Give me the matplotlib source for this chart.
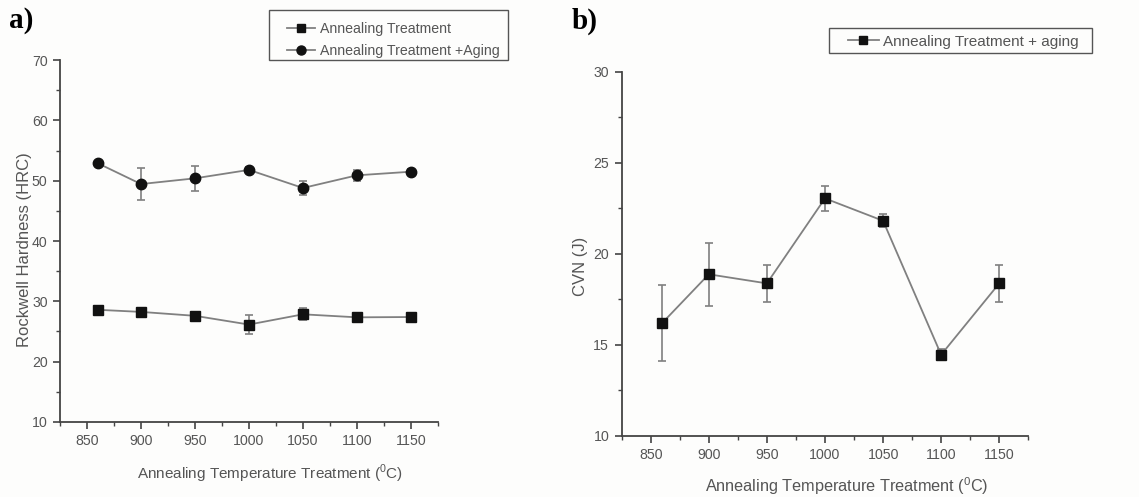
import matplotlib
matplotlib.use("Agg")
import matplotlib.pyplot as plt
from matplotlib.ticker import MultipleLocator
from matplotlib.lines import Line2D
from matplotlib.patches import Rectangle

plt.rcParams['font.family'] = ['Liberation Sans', 'DejaVu Sans']
plt.rcParams['mathtext.fontset'] = 'custom'
plt.rcParams['mathtext.rm'] = 'Liberation Sans'

# Annealing temperatures (°C)
temps = [860, 900, 950, 1000, 1050, 1100, 1150]

# Rockwell hardness (HRC)
hrc_anneal = [28.6, 28.25, 27.6, 26.15, 27.85, 27.35, 27.4]
hrc_anneal_err = [0.5, 0.5, 0.6, 1.6, 1.0, 0.3, 0.3]
hrc_aged = [52.9, 49.45, 50.4, 51.8, 48.8, 50.9, 51.5]
hrc_aged_err = [0.3, 2.6, 2.1, 0.4, 1.1, 0.9, 0.5]

# Charpy V-notch impact energy (J), annealed + aged
cvn_aged = [16.2, 18.87, 18.37, 23.04, 21.81, 14.45, 18.37]
cvn_aged_err = [2.07, 1.73, 1.03, 0.7, 0.35, 0.3, 1.03]

xticks = [850, 900, 950, 1000, 1050, 1100, 1150]
xlabel = r'Annealing Temperature Treatment ($^0$C)'

text_c = '#555555'
line_c = '#808080'
spine_c = '#444444'
bg = '#fdfdfc'

fig = plt.figure(figsize=(11.39, 4.97), dpi=100, facecolor=bg)


def style_axes(ax, ymin, ymax, ymaj, ymin_step):
    ax.set_facecolor(bg)
    for s in ('top', 'right'):
        ax.spines[s].set_visible(False)
    for s in ('left', 'bottom'):
        ax.spines[s].set_color(spine_c)
        ax.spines[s].set_linewidth(1.3)
    ax.set_xlim(825, 1175)
    ax.set_ylim(ymin, ymax)
    ax.set_xticks(xticks)
    ax.xaxis.set_minor_locator(MultipleLocator(25))
    ax.yaxis.set_major_locator(MultipleLocator(ymaj))
    ax.yaxis.set_minor_locator(MultipleLocator(ymin_step))
    ax.tick_params(which='major', direction='out', length=5, width=1.2,
                   color=spine_c, labelcolor=text_c, labelsize=10.2, pad=4)
    ax.tick_params(which='minor', direction='out', length=3, width=1.0, color=spine_c)


def framed_legend(handles, labels, text_anchor, box, fontsize, spacing):
    leg = fig.legend(handles, labels, loc='upper left', bbox_to_anchor=text_anchor,
                     fontsize=fontsize, frameon=False, borderpad=0, borderaxespad=0,
                     handlelength=2.0, handletextpad=0.3, labelspacing=spacing,
                     labelcolor=text_c)
    fig.patches.append(Rectangle(box[:2], box[2], box[3], transform=fig.transFigure,
                                 fill=False, edgecolor='#555555', lw=1.0))
    return leg


# Panel a: hardness
ax1 = fig.add_axes([0.0527, 0.151, 0.3318, 0.728])
style_axes(ax1, 10, 70, 10, 5)
ax1.errorbar(temps, hrc_anneal, yerr=hrc_anneal_err, color=line_c, lw=1.3,
             marker='s', ms=7, mfc='#111111', mec='#111111',
             ecolor=line_c, elinewidth=1.2, capsize=3, capthick=1.2)
ax1.errorbar(temps, hrc_aged, yerr=hrc_aged_err, color=line_c, lw=1.3,
             marker='o', ms=7.5, mfc='#111111', mec='#111111',
             ecolor=line_c, elinewidth=1.2, capsize=3, capthick=1.2)
ax1.set_ylabel('Rockwell Hardness (HRC)', color=text_c, fontsize=12)
ax1.yaxis.set_label_coords(-0.074, 0.475)
ax1.set_xlabel(xlabel, color=text_c, fontsize=11)
ax1.xaxis.set_label_coords(0.557, -0.113)

h1 = [Line2D([], [], color=line_c, lw=1.3, marker='s', ms=6, mfc='#111111', mec='#111111'),
      Line2D([], [], color=line_c, lw=1.3, marker='o', ms=6.5, mfc='#111111', mec='#111111')]
framed_legend(h1, ['Annealing Treatment', 'Annealing Treatment +Aging'],
              (0.252, 0.956), (0.2362, 0.8793, 0.2098, 0.1006), 10.2, 0.55)

# Panel b: impact energy
ax2 = fig.add_axes([0.5458, 0.1233, 0.357, 0.7324])
style_axes(ax2, 10, 30, 5, 2.5)
ax2.errorbar(temps, cvn_aged, yerr=cvn_aged_err, color=line_c, lw=1.3,
             marker='s', ms=7, mfc='#111111', mec='#111111',
             ecolor=line_c, elinewidth=1.2, capsize=3, capthick=1.2)
ax2.set_ylabel('CVN (J)', color=text_c, fontsize=12)
ax2.yaxis.set_label_coords(-0.083, 0.466)
ax2.set_xlabel(xlabel, color=text_c, fontsize=11.7)
ax2.xaxis.set_label_coords(0.553, -0.108)

h2 = [Line2D([], [], color=line_c, lw=1.3, marker='s', ms=6, mfc='#111111', mec='#111111')]
framed_legend(h2, ['Annealing Treatment + aging'],
              (0.7445, 0.930), (0.7278, 0.8934, 0.2309, 0.0503), 11, 0.3)

# Panel letters
fig.text(0.008, 0.985, 'a)', fontsize=21, fontweight='bold', family='Liberation Serif',
         va='top', ha='left', color='black')
fig.text(0.502, 0.985, 'b)', fontsize=21, fontweight='bold', family='Liberation Serif',
         va='top', ha='left', color='black')

fig.savefig('out.png', dpi=100, facecolor=fig.get_facecolor())
